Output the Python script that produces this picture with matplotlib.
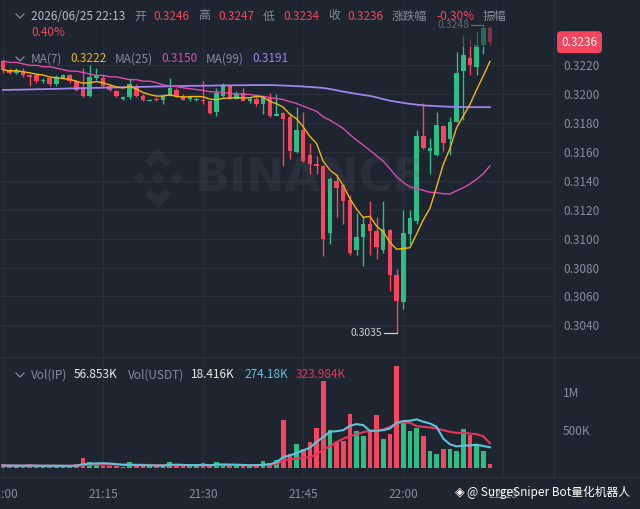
import matplotlib
matplotlib.use('Agg')
import matplotlib.pyplot as plt
import numpy as np
import pandas as pd
from matplotlib.lines import Line2D
from matplotlib.patches import Polygon, Rectangle

plt.rcParams['font.family'] = ['Noto Sans CJK SC', 'DejaVu Sans']

# 1m candles, 21:00 .. 22:13
opens = [0.3223, 0.3217, 0.3215, 0.3216, 0.3213, 0.3213, 0.3209, 0.3211, 0.3207, 0.3211,
         0.3213, 0.3209, 0.3204, 0.3199, 0.3211, 0.3211, 0.3206, 0.3202, 0.3197, 0.3198,
         0.3206, 0.3199, 0.3195, 0.3197, 0.3196, 0.3199, 0.3203, 0.3199, 0.3197, 0.3196,
         0.3196, 0.3195, 0.3188, 0.3199, 0.3206, 0.3197, 0.3201, 0.3195, 0.3197, 0.3193,
         0.3198, 0.3185, 0.3187, 0.3184, 0.3160, 0.3175, 0.3158, 0.3152, 0.3150, 0.3104,
         0.3140, 0.3137, 0.3127, 0.3092, 0.3101, 0.3110, 0.3105, 0.3092, 0.3106, 0.3075,
         0.3056, 0.3103, 0.3112, 0.3171, 0.3161, 0.3158, 0.3178, 0.3169, 0.3181, 0.3216,
         0.3225, 0.3219, 0.3234, 0.3246]
highs = [0.3224, 0.3218, 0.3218, 0.3218, 0.3214, 0.3214, 0.3211, 0.3212, 0.3213, 0.3214,
         0.3214, 0.3210, 0.3218, 0.3220, 0.3218, 0.3213, 0.3207, 0.3203, 0.3199, 0.3211,
         0.3207, 0.3200, 0.3197, 0.3198, 0.3200, 0.3211, 0.3204, 0.3200, 0.3199, 0.3198,
         0.3209, 0.3195, 0.3204, 0.3208, 0.3207, 0.3202, 0.3204, 0.3198, 0.3199, 0.3199,
         0.3201, 0.3200, 0.3188, 0.3187, 0.3191, 0.3188, 0.3166, 0.3157, 0.3151, 0.3143,
         0.3145, 0.3138, 0.3130, 0.3118, 0.3116, 0.3126, 0.3115, 0.3126, 0.3107, 0.3079,
         0.3120, 0.3120, 0.3175, 0.3194, 0.3170, 0.3188, 0.3179, 0.3184, 0.3229, 0.3241,
         0.3238, 0.3244, 0.3248, 0.3247]
lows = [0.3215, 0.3214, 0.3214, 0.3212, 0.3206, 0.3208, 0.3208, 0.3206, 0.3206, 0.3211,
        0.3208, 0.3202, 0.3198, 0.3198, 0.3210, 0.3205, 0.3202, 0.3198, 0.3196, 0.3197,
        0.3198, 0.3195, 0.3195, 0.3195, 0.3193, 0.3199, 0.3198, 0.3196, 0.3195, 0.3195,
        0.3193, 0.3186, 0.3185, 0.3198, 0.3197, 0.3197, 0.3195, 0.3194, 0.3192, 0.3186,
        0.3184, 0.3185, 0.3150, 0.3155, 0.3159, 0.3153, 0.3145, 0.3145, 0.3088, 0.3096,
        0.3115, 0.3110, 0.3089, 0.3089, 0.3081, 0.3089, 0.3086, 0.3090, 0.3064, 0.3035,
        0.3051, 0.3096, 0.3110, 0.3162, 0.3145, 0.3157, 0.3161, 0.3158, 0.3181, 0.3182,
        0.3213, 0.3213, 0.3228, 0.3234]
closes = [0.3217, 0.3215, 0.3217, 0.3213, 0.3212, 0.3209, 0.3210, 0.3207, 0.3212, 0.3213,
          0.3209, 0.3203, 0.3199, 0.3212, 0.3213, 0.3206, 0.3203, 0.3199, 0.3198, 0.3207,
          0.3199, 0.3196, 0.3196, 0.3196, 0.3199, 0.3204, 0.3199, 0.3196, 0.3198, 0.3197,
          0.3195, 0.3187, 0.3201, 0.3206, 0.3197, 0.3200, 0.3195, 0.3197, 0.3193, 0.3198,
          0.3185, 0.3186, 0.3183, 0.3161, 0.3175, 0.3154, 0.3152, 0.3150, 0.3100, 0.3141,
          0.3135, 0.3126, 0.3090, 0.3101, 0.3110, 0.3105, 0.3094, 0.3107, 0.3075, 0.3057,
          0.3104, 0.3114, 0.3171, 0.3163, 0.3163, 0.3179, 0.3166, 0.3181, 0.3215, 0.3227,
          0.3220, 0.3234, 0.3246, 0.3236]

# volume in IP (thousands)
volumes = [57, 30, 25, 35, 57, 30, 22, 28, 30, 25,
           35, 57, 137, 80, 40, 35, 30, 28, 22, 88,
           40, 30, 25, 30, 45, 88, 40, 35, 25, 30,
           71, 40, 88, 45, 40, 30, 40, 35, 45, 97,
           71, 110, 629, 189, 321, 255, 343, 519, 1135, 497,
           343, 352, 704, 488, 418, 475, 695, 378, 444, 1333,
           585, 488, 519, 418, 224, 189, 255, 255, 224, 506,
           431, 299, 220, 56.853]
vol_ma_fast = [36, 35, 34, 33, 35, 34, 32, 33, 33, 32,
               31, 34, 52, 60, 64, 66, 62, 54, 44, 46,
               42, 40, 38, 36, 35, 44, 47, 44, 41, 42,
               41, 40, 48, 50, 48, 46, 43, 39, 41, 44,
               52, 79, 145, 167, 198, 233, 268, 343, 409, 475,
               484, 497, 554, 576, 563, 488, 488, 497, 519, 594,
               616, 620, 638, 607, 585, 541, 387, 312, 286, 295,
               299, 308, 290, 274.18]
vol_ma_slow = [38, 37, 36, 35, 35, 35, 34, 34, 33, 33,
               33, 34, 40, 44, 46, 48, 49, 50, 49, 48,
               47, 45, 43, 41, 40, 40, 41, 40, 39, 39,
               40, 41, 43, 43, 42, 43, 43, 41, 40, 42,
               45, 57, 101, 119, 123, 136, 145, 180, 242, 286,
               343, 387, 418, 444, 471, 488, 497, 506, 541, 585,
               598, 594, 550, 541, 532, 519, 497, 475, 462, 462,
               453, 444, 418, 323.984]

# MA(25) for the first bars (window reaches back before 21:00)
ma25_lead = [0.3223, 0.3222, 0.3222, 0.3221, 0.3220, 0.3220, 0.3219, 0.3219, 0.3218, 0.3217,
             0.3216, 0.3216, 0.3215, 0.3214, 0.3213, 0.3213, 0.3212, 0.3212, 0.3211, 0.3210,
             0.3210, 0.3209, 0.3209, 0.3208]
ma99 = [0.32030, 0.32030, 0.32031, 0.32032, 0.32033, 0.32034, 0.32035, 0.32036, 0.32037, 0.32038,
        0.32040, 0.32041, 0.32042, 0.32043, 0.32044, 0.32045, 0.32046, 0.32047, 0.32048, 0.32049,
        0.32050, 0.32051, 0.32052, 0.32053, 0.32054, 0.32055, 0.32056, 0.32057, 0.32058, 0.32058,
        0.32059, 0.32059, 0.32060, 0.32061, 0.32061, 0.32062, 0.32062, 0.32063, 0.32063, 0.32063,
        0.32063, 0.32062, 0.32060, 0.32058, 0.32056, 0.32053, 0.32050, 0.32047, 0.32043, 0.32036,
        0.32027, 0.32018, 0.32010, 0.32002, 0.31995, 0.31988, 0.31978, 0.31966, 0.31955, 0.31947,
        0.31940, 0.31933, 0.31928, 0.31923, 0.31920, 0.31917, 0.31915, 0.31913, 0.31912, 0.31911,
        0.31910, 0.31910, 0.31910, 0.31910]

time_ticks = [0, 15, 30, 45, 60, 75]
time_labels = ['21:00', '21:15', '21:30', '21:45', '22:00', '22:15']
price_ticks = [0.3040, 0.3060, 0.3080, 0.3100, 0.3120, 0.3140, 0.3160, 0.3180, 0.3200, 0.3220]
vol_ticks = [500, 1000]
vol_tick_labels = ['500K', '1M']

BG = '#1e2430'
GRID = '#2a303b'
GREEN = '#2ebd85'
RED = '#f6465d'
GREY = '#848e9c'
W, H = 640, 509

o = np.array(opens); h = np.array(highs); l = np.array(lows); c = np.array(closes)
idx = np.arange(len(o))
up = c >= o
colors = np.where(up, GREEN, RED)

ma7 = pd.Series(c).rolling(7, min_periods=1).mean().values
ma25 = pd.Series(c).rolling(25).mean().values
ma25[:len(ma25_lead)] = ma25_lead

fig = plt.figure(figsize=(6.4, 5.09), dpi=100, facecolor=BG)
ax = fig.add_axes([0, 1 - 357 / H, 554 / W, 357 / H], facecolor=BG)
axv = fig.add_axes([0, 1 - 477 / H, 554 / W, 120 / H], facecolor=BG)

for a in (ax, axv):
    for s in a.spines.values():
        s.set_visible(False)
    a.set_xlim(-0.45, 82.6)
    a.set_xticks(time_ticks)
    a.grid(axis='x', color=GRID, lw=0.8)
    a.yaxis.tick_right()
    a.tick_params(length=0, colors=GREY, labelsize=8.5, pad=6.5)
    a.set_axisbelow(True)

ax.set_ylim(0.301805, 0.326521)
ax.set_yticks(price_ticks)
ax.set_yticklabels([f'{p:.4f}' for p in price_ticks])
ax.grid(axis='y', color=GRID, lw=0.8)
ax.set_xticklabels([])

# candles
ax.vlines(idx, l, h, colors=colors, lw=1, zorder=2)
ax.bar(idx, np.maximum(np.abs(c - o), 0.00008), bottom=np.minimum(o, c),
       width=0.68, color=colors, zorder=3)

ax.plot(idx, ma99, color='#a383ec', lw=1.3, zorder=4)
ax.plot(idx, ma25, color='#de4bb0', lw=1.0, zorder=4)
ax.plot(idx, ma7, color='#f0b90b', lw=1.0, zorder=4)

# high / low markers
hi_i = int(np.argmax(h)); lo_i = int(np.argmin(l))
ax.plot([hi_i - 1.9, hi_i], [h[hi_i], h[hi_i]], color='#b7bdc6', lw=0.9, zorder=5)
ax.text(hi_i - 2.1, h[hi_i], f'{h[hi_i]:.4f}', color='#b7bdc6', fontsize=7.5,
        ha='right', va='center', zorder=5)
ax.plot([lo_i - 1.9, lo_i], [l[lo_i], l[lo_i]], color='#d0d4da', lw=0.9, zorder=5)
ax.text(lo_i - 2.1, l[lo_i], f'{l[lo_i]:.4f}', color='#d0d4da', fontsize=7.5,
        ha='right', va='center', zorder=5)

# last price tag
ax.text(1.046, c[-1], f'{c[-1]:.4f}', transform=ax.get_yaxis_transform(),
        color='white', fontsize=8.5, ha='center', va='center', clip_on=False, zorder=6,
        bbox=dict(boxstyle='round,pad=0.38,rounding_size=0.35', fc=RED, ec='none'))

# volume
axv.set_ylim(-114, 1452)
axv.bar(idx, volumes, width=0.7, color=colors, zorder=2)
axv.plot(idx, vol_ma_slow, color='#e0385a', lw=1.5, zorder=3)
axv.plot(idx, vol_ma_fast, color='#5bc3dc', lw=1.5, zorder=3)
axv.set_yticks(vol_ticks)
axv.set_yticklabels(vol_tick_labels)
axv.set_xticklabels(time_labels)
axv.tick_params(axis='x', pad=8)


def px(x, y):
    return x / W, 1 - y / H


def put(x, y, s, color, size=8.5, **kw):
    fig.text(*px(x, y), s, color=color, fontsize=size, ha='left', va='center', **kw)


def chevron(x, y):
    xs = [x, x + 4, x + 8]
    ys = [y - 2, y + 2, y - 2]
    fig.add_artist(Line2D([v / W for v in xs], [1 - v / H for v in ys], color=GREY, lw=0.9))


# dim band under the legend rows
fig.add_artist(Rectangle(px(0, 47), 512 / W, 47 / H, transform=fig.transFigure,
                         fc=BG, ec='none', alpha=0.55, zorder=1))

# panel separators
sep = '#2b313b'
fig.add_artist(Line2D([0, 1], [1 - 357 / H] * 2, color=sep, lw=1))
fig.add_artist(Line2D([0, 1], [1 - 477 / H] * 2, color=sep, lw=1))
fig.add_artist(Line2D([554 / W] * 2, [1 - 477 / H, 1], color=sep, lw=1))

# legend rows
chevron(16, 16)
put(31, 16, '2026/06/25 22:13', '#b7bdc6')
for x, s, col in [(134, '开', GREY), (153, '0.3246', RED), (198, '高', GREY), (218, '0.3247', RED),
                  (263, '低', GREY), (283, '0.3234', RED), (328, '收', GREY), (347, '0.3236', RED),
                  (392, '涨跌幅', GREY), (436, '-0.30%', RED), (483, '振幅', GREY)]:
    put(x, 16, s, col)
put(31, 33, '0.40%', RED)

chevron(16, 59)
for x, s, col in [(31, 'MA(7)', GREY), (70, '0.3222', '#f0b90b'), (115, 'MA(25)', GREY),
                  (161, '0.3150', '#de4bb0'), (206, 'MA(99)', GREY), (252, '0.3191', '#a383ec')]:
    put(x, 59, s, col)

chevron(16, 375)
for x, s, col in [(31, 'Vol(IP)', GREY), (74, '56.853K', '#eaecef'), (128, 'Vol(USDT)', GREY),
                  (191, '18.416K', '#eaecef'), (244, '274.18K', '#5bc3dc'),
                  (296, '323.984K', '#e0385a')]:
    put(x, 375, s, col)

# watermark
fig.text(*px(310, 179), 'BINANCE', color='#5e6673', alpha=0.16, fontsize=33,
         fontweight='bold', family='DejaVu Sans', ha='center', va='center')
cx, cy, r = 158, 178, 30
logo = [
    [(0, 0.22), (0.22, 0), (0, -0.22), (-0.22, 0)],
    [(-0.62, 0.2), (-0.42, 0), (-0.62, -0.2), (-0.82, 0)],
    [(0.62, 0.2), (0.82, 0), (0.62, -0.2), (0.42, 0)],
    [(0, 1), (0.44, 0.56), (0.24, 0.36), (0, 0.6), (-0.24, 0.36), (-0.44, 0.56)],
    [(0, -1), (0.44, -0.56), (0.24, -0.36), (0, -0.6), (-0.24, -0.36), (-0.44, -0.56)],
]
for shape in logo:
    pts = [px(cx + u * r, cy - v * r) for u, v in shape]
    fig.add_artist(Polygon(pts, closed=True, transform=fig.transFigure,
                           fc='#5e6673', ec='none', alpha=0.16))

fig.text(*px(455, 492), '◈', color='white', fontsize=9, ha='left', va='center',
         family=['DejaVu Sans'])
fig.text(*px(467, 492), '@ SurgeSniper Bot量化机器人', color='white', fontsize=8.5,
         ha='left', va='center')

fig.savefig('out.png', dpi=100, facecolor=BG)
